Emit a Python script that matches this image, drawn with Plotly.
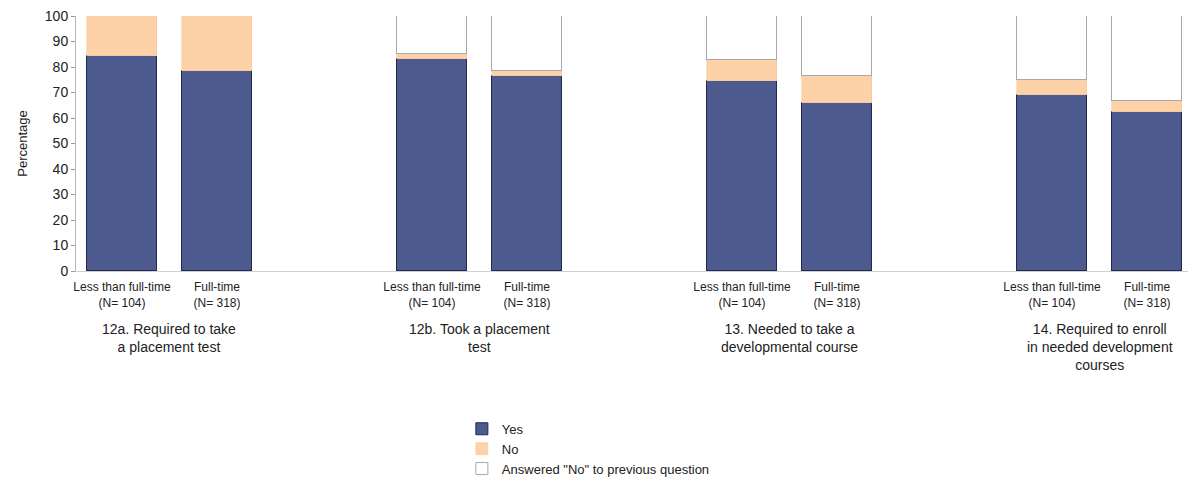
import plotly.graph_objects as go

# Survey items (one group of bars per item)
questions = [
    "12a. Required to take<br>a placement test",
    "12b. Took a placement<br>test",
    "13. Needed to take a<br>developmental course",
    "14. Required to enroll<br>in needed development<br>courses",
]
statuses = ["Less than full-time<br>(N= 104)", "Full-time<br>(N= 318)"]

# Percentages per question, ordered [less than full-time, full-time]
yes_pct = [[84.3, 78.5], [83.0, 76.5], [74.5, 66.0], [69.0, 62.5]]
no_pct = [[15.7, 21.5], [2.0, 2.0], [8.2, 10.5], [6.0, 4.0]]
prev_no_pct = [[0.0, 0.0], [15.0, 21.5], [17.3, 23.5], [25.0, 33.5]]

# Horizontal layout of the grouped bars (axis units)
GROUP_STEP = 3.263
BAR_STEP = 1.0
BAR_WIDTH = 0.74

xs, labels = [], []
for g in range(len(questions)):
    for j in range(len(statuses)):
        xs.append(g * GROUP_STEP + j * BAR_STEP)
        labels.append(statuses[j])

flat = lambda arr: [v for row in arr for v in row]

FONT = "Liberation Sans, Arial, sans-serif"
fig = go.Figure()
fig.add_bar(x=xs, y=flat(yes_pct), name="Yes", width=BAR_WIDTH,
            marker=dict(color="#4c5a8d", line=dict(color="#23284f", width=1)))
fig.add_bar(x=xs, y=flat(no_pct), name="No", width=BAR_WIDTH,
            marker=dict(color="#fdd2a8", line=dict(color="#f3c090", width=0.5)))
fig.add_bar(x=xs, y=flat(prev_no_pct), name='Answered "No" to previous question',
            width=BAR_WIDTH,
            marker=dict(color="#ffffff", line=dict(color="#a8a8a8", width=1)))

for g, q in enumerate(questions):
    fig.add_annotation(x=g * GROUP_STEP + BAR_STEP / 2, y=-0.19, xref="x", yref="paper",
                       text=q, showarrow=False, yanchor="top",
                       font=dict(family=FONT, size=14, color="#222"))

fig.update_layout(
    barmode="stack",
    width=1188, height=479,
    margin=dict(l=76, r=0, t=16, b=208, autoexpand=False),
    plot_bgcolor="white", paper_bgcolor="white",
    font=dict(family=FONT, color="#222"),
    xaxis=dict(range=[-0.484, 11.22], tickvals=xs, ticktext=labels,
               tickfont=dict(size=12), showgrid=False, zeroline=False,
               showline=True, linecolor="#d0d0d0", ticks="", automargin=False,
               ticklabelstandoff=5),
    yaxis=dict(range=[0, 100], dtick=10, showgrid=False, zeroline=False,
               showline=True, linecolor="#b8b8b8", ticks="outside", ticklen=4,
               tickcolor="#999", tickfont=dict(size=14), automargin=False,
               title=dict(text="Percentage", font=dict(size=13), standoff=14)),
    legend=dict(x=0.347, y=-0.56, xanchor="left", yanchor="top",
                font=dict(size=13), itemwidth=30, tracegroupgap=0,
                traceorder="normal"),
    bargap=0,
)

fig.write_html("out.html")
